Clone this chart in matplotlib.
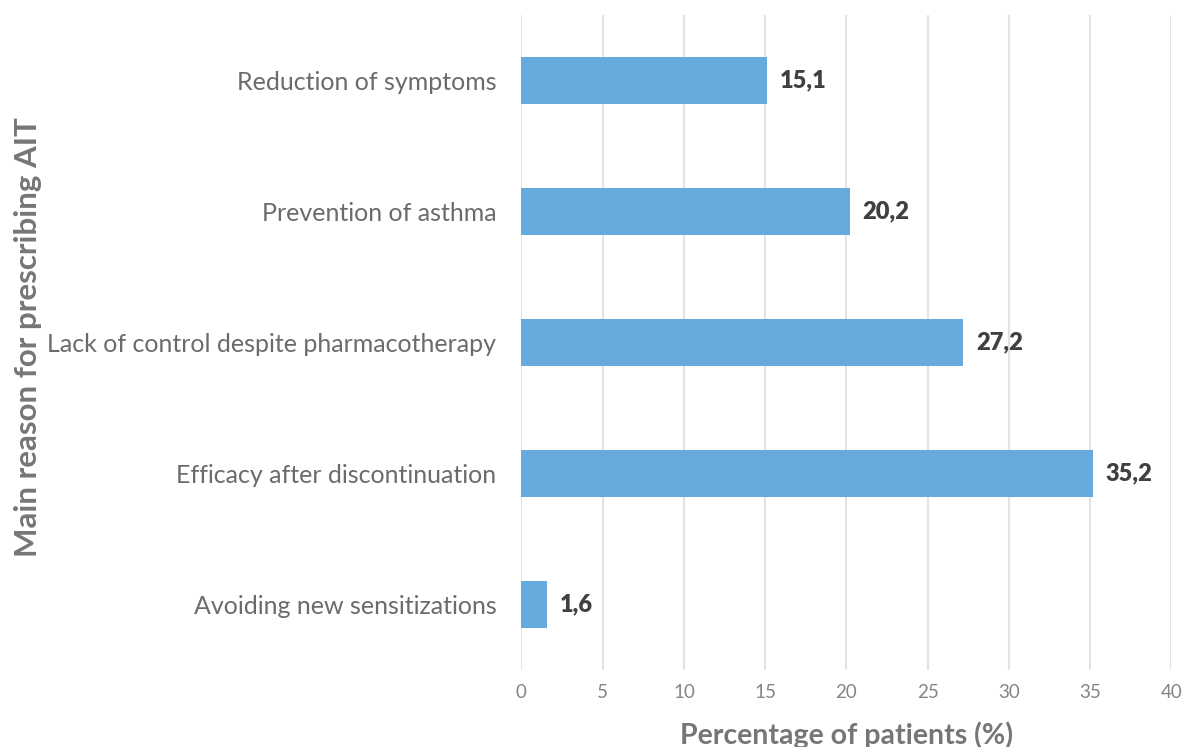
import matplotlib
matplotlib.use("Agg")
import matplotlib.pyplot as plt

# data
reasons = [
    "Reduction of symptoms",
    "Prevention of asthma",
    "Lack of control despite pharmacotherapy",
    "Efficacy after discontinuation",
    "Avoiding new sensitizations",
]
percentages = [15.1, 20.2, 27.2, 35.2, 1.6]
x_ticks = [0, 5, 10, 15, 20, 25, 30, 35, 40]

BAR_COLOR = "#67AADD"
plt.rcParams["font.family"] = ["Lato", "DejaVu Sans"]

fig = plt.figure(figsize=(11.84, 7.47), dpi=100)
ax = fig.add_axes([0.4404, 0.1031, 0.5490, 0.8768])

y_pos = list(range(len(reasons)))
bars = ax.barh(y_pos, percentages, height=0.352, color=BAR_COLOR, zorder=3)

ax.set_ylim(len(reasons) - 0.5, -0.5)
ax.set_xlim(0, 40)
ax.set_xticks(x_ticks)
ax.set_xticklabels([str(t) for t in x_ticks])
ax.set_yticks(y_pos)
ax.set_yticklabels(reasons)

ax.grid(axis="x", color="#E3E3E3", linewidth=1.5, zorder=0)
ax.set_axisbelow(True)
for s in ax.spines.values():
    s.set_visible(False)

ax.tick_params(axis="x", length=0, pad=10, labelsize=13.5, labelcolor="#858585")
ax.tick_params(axis="y", length=0, pad=18, labelsize=18, labelcolor="#6B6B6B")

# value labels
for b, v in zip(bars, percentages):
    ax.annotate(f"{v:.1f}".replace(".", ","),
                xy=(b.get_width(), b.get_y() + b.get_height() / 2),
                xytext=(9, 0), textcoords="offset points",
                va="center", ha="left", fontsize=17, fontweight="heavy",
                color="#404040")

ax.set_xlabel("Percentage of patients (%)", fontsize=20.5, fontweight="bold",
              color="#767676")
ax.xaxis.set_label_coords(0.5, -0.078)
ax.set_ylabel("Main reason for prescribing AIT", fontsize=22.5,
              fontweight="bold", color="#767676")
ax.yaxis.set_label_coords(-0.738, 0.508)

fig.savefig("out.png", dpi=100)
